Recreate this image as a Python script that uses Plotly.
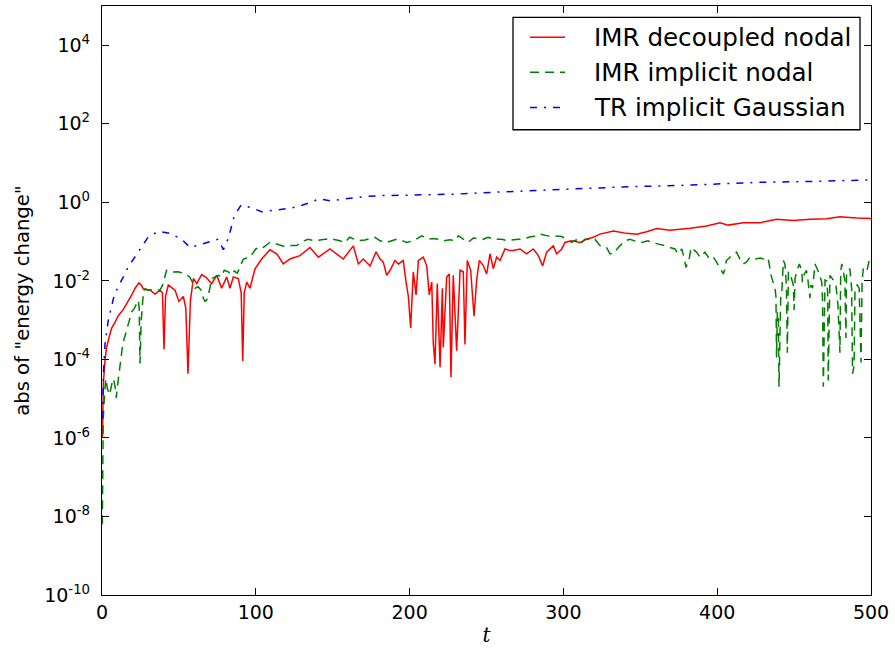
import plotly.graph_objects as go

# --- IMR decoupled nodal ---
t_red = [0.25, 0.9, 2, 3, 4.5, 6.3, 8.5, 10.6, 14, 17.1, 19.5, 21.5, 24, 25.5, 26.9, 31.2, 34.5, 37.7,
         39.3, 40.3, 41.3, 43.1, 47.5, 50, 52.9, 54.5, 55.9, 57.5, 59.4, 61.6, 64.8, 68, 71.3, 74.6,
         77.8, 81.1, 83.2, 85.4, 88.6, 90.5, 91.5, 92.5, 94.1, 96.2, 99.5, 103.8, 109.2, 113.6, 117.9,
         122.2, 128.7, 135.2, 140.7, 148.2, 156.9, 163.4, 166.7, 169.9, 174.3, 178.2, 180.8, 182.9,
         185.1, 187.3, 190.5, 192.7, 195.9, 197.7, 199.2, 200.7, 202.4, 204.2, 205.7, 208.9, 211.1,
         212.8, 214.4, 215.4, 216.5, 218, 219.8, 221.3, 221.9, 224.1, 225.8, 226.9, 228.4, 230.6,
         232.8, 234.9, 236, 237.5, 239.7, 241.9, 243.6, 245.3, 247.9, 250.1, 252.3, 254.4, 256.6,
         258.8, 262, 265.3, 267.4, 271.8, 276.1, 280.4, 283.7, 286.5, 289.1, 293.4, 295.6, 298.9,
         301, 305.4, 310.8, 315.1, 319.5, 323.8, 332.5, 341.1, 347.7, 354.1, 360.7, 369.3, 375.8,
         382.3, 393.2, 401.8, 407.2, 417, 427.8, 438.7, 449.5, 460.3, 471.2, 479.8, 490.7, 500]
e_red = [1.0e-6, 2.5e-5, 1.0e-4, 2.0e-4, 3.5e-4, 6.3e-4, 8.9e-4, 1.3e-3, 1.9e-3, 3.0e-3, 4.5e-3,
         6.5e-3, 8.9e-3, 7.9e-3, 6.2e-3, 5.8e-3, 4.6e-3, 5.8e-3, 5.0e-3, 1.8e-4, 4.0e-3, 7.8e-3,
         5.8e-3, 3.0e-3, 4.0e-3, 2.0e-3, 4.3e-5, 3.2e-3, 1.15e-2, 8.5e-3, 1.45e-2, 1.2e-2, 8.5e-3,
         1.38e-2, 6.5e-3, 1.26e-2, 6.5e-3, 1.26e-2, 1.15e-2, 5.0e-3, 9.1e-5, 5.0e-3, 9.3e-3, 6.5e-3,
         2.04e-2, 3.6e-2, 6.2e-2, 4.9e-2, 2.7e-2, 3.6e-2, 4.4e-2, 7.1e-2, 4.0e-2, 6.5e-2, 3.6e-2,
         7.8e-2, 2.7e-2, 3.6e-2, 2.4e-2, 5.5e-2, 3.6e-2, 3.0e-2, 1.38e-2, 1.86e-2, 3.3e-2, 2.7e-2,
         3.3e-2, 9.3e-3, 4.0e-3, 6.3e-4, 1.7e-2, 4.4e-3, 3.3e-2, 4.0e-2, 2.45e-2, 4.4e-3, 9.3e-3,
         2.6e-4, 7.6e-5, 8.5e-3, 6.3e-5, 6.5e-3, 2.0e-4, 1.26e-2, 1.5e-2, 3.5e-5, 1.38e-2, 1.66e-4,
         1.86e-2, 1.7e-2, 2.4e-4, 3.3e-2, 1.86e-2, 1.26e-3, 1.05e-2, 3.3e-2, 2.45e-2, 1.5e-2, 4.9e-2,
         2.04e-2, 4.0e-2, 3.3e-2, 6.5e-2, 5.9e-2, 5.9e-2, 6.5e-2, 4.9e-2, 6.5e-2, 4.4e-2, 2.4e-2,
         5.4e-2, 7.8e-2, 4.9e-2, 6.5e-2, 9.5e-2, 0.105, 9.5e-2, 0.115, 0.129, 0.155, 0.186, 0.162,
         0.155, 0.178, 0.214, 0.195, 0.204, 0.219, 0.251, 0.302, 0.263, 0.302, 0.302, 0.372, 0.347,
         0.372, 0.380, 0.427, 0.398, 0.389]

# --- IMR implicit nodal ---
t_green = [0.2, 0.8, 1.8, 2.5, 3.5, 5, 6.5, 7.5, 8.5, 9.3, 10, 12, 13.5, 15, 17, 19.3, 21, 22.5, 23.6,
           24.2, 24.7, 25.5, 26.9, 28, 30, 34, 37.7, 39.5, 40.5, 42, 45, 49.6, 54, 57, 59.4, 60.5,
           62.5, 64.4, 65.9, 67, 68, 69.6, 71.3, 75.6, 77.5, 79.5, 82.1, 84, 86, 88, 91.9, 96.2, 100,
           103.8, 105, 109, 113.6, 118, 122, 126.6, 130, 134, 138.5, 145, 150, 154, 158, 161, 166.4,
           171, 177.5, 180.8, 185, 188, 191.6, 195, 198, 202.4, 208, 212, 215, 218.7, 222, 226, 229.5,
           231.7, 235, 238, 241.4, 245, 248, 251, 254, 256.6, 260, 263, 266, 269.6, 272, 275, 279.4,
           282, 284.8, 288, 290.5, 293, 299, 302, 305.4, 307.5, 309.7, 312, 314, 316.2, 318, 320.5,
           323.8, 326, 328, 330.3, 332.5, 335.7, 338, 340, 343.3, 345.5, 347.7, 350.9, 355, 357.4,
           360, 362.8, 366, 369.3, 372.5, 374.5, 377, 378.6, 379.7, 382, 383, 386.6, 388.8, 392, 395,
           397.5, 399.6, 404, 405, 406, 409.4, 412.6, 414.8, 417, 419, 421.3, 425, 428, 430, 432,
           433.5, 435, 436.5, 437.6, 438.2, 438.6, 439.1, 439.7, 440.2, 440.8, 441.3, 442, 443, 444,
           445, 445.6, 446.3, 448, 449.5, 450, 450.6, 452, 453.4, 455, 455.4, 456.7, 458, 459, 460.3,
           460.8, 462, 463.6, 465.8, 468, 468.5, 469, 469.6, 470.1, 471.2, 471.8, 472.2, 472.8, 473.3,
           475.5, 477.2, 478.5, 479.8, 480.3, 481, 483, 483.7, 484.1, 486.3, 487.4, 488, 489, 489.6,
           491, 492.3, 493.5, 494.2, 495, 497.2, 499, 500]
e_green = [6.3e-9, 3.2e-6, 1.6e-5, 3.2e-5, 1.8e-5, 1.26e-5, 2.5e-5, 3.2e-5, 2.0e-5, 1.05e-5, 2.0e-5,
           7.9e-5, 2.5e-4, 4.0e-4, 7.9e-4, 1.6e-3, 2.0e-3, 2.5e-3, 3.2e-3, 2.0e-3, 7.9e-5, 1.0e-3,
           5.0e-3, 6.3e-3, 5.8e-3, 6.0e-3, 5.8e-3, 7.9e-3, 1.15e-2, 1.86e-2, 1.66e-2, 1.7e-2, 1.5e-2,
           1.26e-2, 8.5e-3, 6.5e-3, 7.1e-3, 5.8e-3, 3.6e-3, 3.0e-3, 3.2e-3, 5.2e-3, 1.15e-2, 1.38e-2,
           1.26e-2, 1.86e-2, 1.7e-2, 1.41e-2, 1.78e-2, 1.58e-2, 3.6e-2, 4.0e-2, 6.5e-2, 7.6e-2,
           7.1e-2, 9.5e-2, 8.7e-2, 7.6e-2, 7.9e-2, 7.9e-2, 0.1, 0.115, 0.105, 0.115, 0.115, 0.107,
           9.5e-2, 0.129, 0.105, 0.110, 0.129, 0.105, 9.5e-2, 0.105, 0.115, 0.107, 9.5e-2, 0.105,
           0.141, 0.115, 0.120, 0.115, 0.105, 0.112, 0.105, 0.141, 0.112, 9.5e-2, 0.123, 0.117, 0.115,
           0.129, 0.117, 0.115, 0.115, 0.107, 0.110, 0.110, 0.115, 0.120, 0.135, 0.138, 0.155, 0.145,
           0.138, 0.141, 0.135, 0.115, 9.5e-2, 0.107, 0.115, 9.5e-2, 0.115, 0.115, 0.107, 0.115,
           7.9e-2, 7.6e-2, 7.1e-2, 4.9e-2, 4.9e-2, 7.1e-2, 8.9e-2, 0.105, 0.115, 0.105, 0.1, 9.5e-2,
           0.105, 9.5e-2, 9.1e-2, 8.7e-2, 7.9e-2, 7.1e-2, 6.5e-2, 4.9e-2, 6.5e-2, 3.6e-2, 2.2e-2,
           4.0e-2, 7.1e-2, 5.4e-2, 4.0e-2, 5.4e-2, 3.6e-2, 4.0e-2, 3.0e-2, 1.5e-2, 2.04e-2, 3.3e-2,
           4.4e-2, 5.4e-2, 3.6e-2, 2.7e-2, 3.0e-2, 4.0e-2, 3.6e-2, 3.8e-2, 3.6e-2, 4.0e-2, 3.2e-2,
           1.38e-2, 8.5e-3, 6.3e-3, 4.0e-3, 1.12e-4, 1.6e-3, 1.38e-3, 2.0e-5, 1.0e-3, 4.0e-3, 5.0e-3,
           3.3e-2, 2.7e-2, 7.8e-3, 1.48e-4, 1.7e-2, 1.26e-2, 7.8e-3, 1.82e-3, 1.15e-2, 1.86e-2,
           2.7e-2, 1.86e-2, 9.3e-3, 1.5e-2, 1.86e-2, 1.05e-2, 3.6e-3, 7.8e-3, 6.5e-3, 2.7e-2, 1.7e-2,
           9.3e-3, 3.2e-3, 2.0e-5, 6.3e-3, 1.05e-2, 1.0e-2, 5.2e-3, 2.9e-5, 1.0e-2, 1.38e-2, 1.05e-2,
           7.8e-3, 2.5e-3, 1.48e-4, 1.7e-2, 2.7e-2, 1.05e-2, 3.5e-4, 1.7e-2, 2.04e-2, 6.5e-3, 4.3e-5,
           6.9e-5, 6.3e-3, 7.9e-3, 6.5e-3, 8.3e-5, 1.0e-2, 2.04e-2, 1.7e-2, 3.6e-2, 3.2e-2]

# --- TR implicit Gaussian ---
t_blue = [0.25, 1, 2, 4.1, 7.4, 10.2, 13.9, 17.1, 21.5, 25.8, 30.1, 36.6, 44.2, 51.8, 57.2, 62.6, 69.8,
          75.6, 78.9, 82.1, 86, 90.4, 97.3, 103.8, 112.5, 120, 126.6, 134.2, 141.3, 148.2, 155.8,
          163.4, 172, 180.8, 195, 213, 230, 256.6, 280, 300, 320, 343, 375.8, 400, 427.8, 460, 500]
e_blue = [3.2e-6, 5.0e-5, 2.5e-4, 1.0e-3, 3.5e-3, 6.8e-3, 1.26e-2, 2.3e-2, 4.1e-2, 7.2e-2, 0.132,
          0.182, 0.162, 0.115, 7.1e-2, 8.1e-2, 0.1, 0.115, 6.2e-2, 0.120, 0.447, 0.851, 0.724, 0.575,
          0.631, 0.692, 0.759, 0.955, 1.23, 1.10, 1.17, 1.29, 1.41, 1.48, 1.51, 1.55, 1.62, 1.82,
          2.0, 2.19, 2.34, 2.51, 2.69, 2.95, 3.24, 3.39, 3.72]

series_names = ["IMR decoupled nodal", "IMR implicit nodal", "TR implicit Gaussian"]
series_colors = ["#ff0000", "#008000", "#0000ff"]
series_dashes = ["solid", "9px,6px", "7px,7px,2px,7px"]

y_tick_vals = [1e-10, 1e-8, 1e-6, 1e-4, 1e-2, 1e0, 1e2, 1e4]
y_tick_text = ["10<sup>-10</sup>", "10<sup>-8</sup>", "10<sup>-6</sup>", "10<sup>-4</sup>",
               "10<sup>-2</sup>", "10<sup>0</sup>", "10<sup>2</sup>", "10<sup>4</sup>"]
x_tick_vals = [0, 100, 200, 300, 400, 500]

fig = go.Figure()
for t, e, name, col, dash in zip([t_red, t_green, t_blue], [e_red, e_green, e_blue],
                                 series_names, series_colors, series_dashes):
    fig.add_trace(go.Scatter(x=t, y=e, mode="lines", name=name,
                             line=dict(color=col, width=1.5, dash=dash)))

# legend drawn as a framed box in the upper right corner
L, R, T, B = 102, 871, 5, 600
def px(x):
    return (x - L) / (R - L)
def py(y):
    return (B - y) / (B - T)

shapes = [dict(type="rect", xref="paper", yref="paper", x0=px(513), x1=px(860), y0=py(130), y1=py(16.5),
               line=dict(color="black", width=1.3), fillcolor="white", layer="above")]
annotations = []
for i, (name, col, dash) in enumerate(zip(series_names, series_colors, series_dashes)):
    yy = 36.5 + 35.5 * i
    shapes.append(dict(type="line", xref="paper", yref="paper", x0=px(530), x1=px(565), y0=py(yy), y1=py(yy),
                       line=dict(color=col, width=1.5, dash=dash), layer="above"))
    annotations.append(dict(xref="paper", yref="paper", x=px(592), y=py(yy), text=name, showarrow=False,
                            xanchor="left", yanchor="middle",
                            font=dict(family="DejaVu Sans", size=24.6, color="black")))

fig.update_layout(
    width=895, height=648,
    margin=dict(l=L, r=895 - R, t=T, b=648 - B),
    paper_bgcolor="white", plot_bgcolor="white",
    showlegend=False,
    font=dict(family="DejaVu Sans", size=19, color="black"),
    shapes=shapes, annotations=annotations,
    xaxis=dict(range=[0, 500], tickvals=x_tick_vals, ticks="inside", ticklen=7, tickwidth=1,
               tickcolor="black", showline=True, linecolor="black", linewidth=1.3, mirror="allticks",
               showgrid=False, zeroline=False, tickfont=dict(size=19),
               title=dict(text="<i>t</i>", font=dict(family="DejaVu Serif", size=20), standoff=6)),
    yaxis=dict(type="log", range=[-10, 5], tickvals=y_tick_vals, ticktext=y_tick_text,
               ticks="inside", ticklen=7, tickwidth=1, tickcolor="black", showline=True,
               linecolor="black", linewidth=1.3, mirror="allticks", showgrid=False, zeroline=False,
               tickfont=dict(size=19), ticklabelstandoff=7,
               title=dict(text='abs of "energy change"', font=dict(size=19.6), standoff=9)),
)

fig.write_html("out.html")
